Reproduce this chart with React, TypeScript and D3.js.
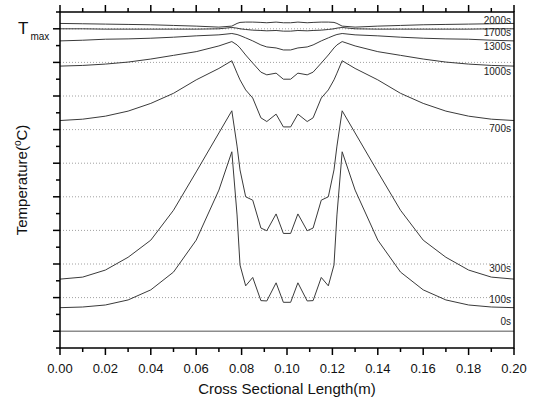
import React, { useEffect, useRef } from 'react';
import * as d3 from 'd3';

// cross section positions (m), shared by all time curves
const xs = [0, 0.01, 0.02, 0.03, 0.04, 0.05, 0.06, 0.07, 0.0757, 0.078, 0.0793, 0.0818, 0.0849, 0.0885, 0.0911, 0.0952, 0.0984,
  0.1016, 0.1048, 0.1089, 0.1115, 0.1151, 0.1182, 0.1207, 0.122, 0.1243, 0.13, 0.14, 0.15, 0.16, 0.17, 0.18, 0.19, 0.2];

// temperature in tick units (0 = initial, 9 = Tmax)
const t0s = [0, 0, 0, 0, 0, 0, 0, 0, 0, 0, 0, 0, 0, 0, 0, 0, 0,
  0, 0, 0, 0, 0, 0, 0, 0, 0, 0, 0, 0, 0, 0, 0, 0, 0];
const t100s = [0.70, 0.72, 0.78, 0.93, 1.23, 1.76, 2.71, 4.20, 5.34, 3.46, 1.97, 1.35, 1.60, 0.91, 0.90, 1.44, 0.86,
  0.86, 1.44, 0.90, 0.91, 1.60, 1.35, 1.97, 3.46, 5.34, 4.20, 2.71, 1.76, 1.23, 0.93, 0.78, 0.72, 0.70];
const t300s = [1.55, 1.61, 1.82, 2.20, 2.71, 3.60, 4.74, 5.90, 6.56, 5.51, 4.80, 4.00, 3.90, 3.07, 2.99, 3.49, 2.91,
  2.91, 3.49, 2.99, 3.07, 3.90, 4.00, 4.80, 5.51, 6.56, 5.90, 4.74, 3.60, 2.71, 2.20, 1.82, 1.61, 1.55];
const t700s = [6.27, 6.31, 6.40, 6.55, 6.78, 7.08, 7.48, 7.82, 8.05, 7.68, 7.48, 7.18, 6.94, 6.35, 6.24, 6.46, 6.08,
  6.08, 6.46, 6.24, 6.35, 6.94, 7.18, 7.48, 7.68, 8.05, 7.82, 7.48, 7.08, 6.78, 6.55, 6.40, 6.31, 6.27];
const t1000s = [7.89, 7.91, 7.95, 8.01, 8.10, 8.21, 8.32, 8.49, 8.62, 8.52, 8.43, 8.22, 7.98, 7.71, 7.63, 7.68, 7.50,
  7.50, 7.68, 7.63, 7.71, 7.98, 8.22, 8.43, 8.52, 8.62, 8.49, 8.32, 8.21, 8.10, 8.01, 7.95, 7.91, 7.89];
const t1300s = [8.64, 8.66, 8.69, 8.70, 8.72, 8.75, 8.79, 8.82, 8.86, 8.83, 8.80, 8.73, 8.64, 8.52, 8.46, 8.43, 8.37,
  8.37, 8.43, 8.46, 8.52, 8.64, 8.73, 8.80, 8.83, 8.86, 8.82, 8.79, 8.75, 8.72, 8.70, 8.69, 8.66, 8.64];
const t1700s = [9.00, 9.00, 8.99, 8.99, 8.99, 8.99, 8.99, 9.00, 9.04, 9.02, 9.00, 8.98, 8.96, 8.95, 8.94, 8.95, 8.93,
  8.93, 8.95, 8.94, 8.95, 8.96, 8.98, 9.00, 9.02, 9.04, 9.00, 8.99, 8.99, 8.99, 8.99, 8.99, 9.00, 9.00];
const t2000s = [9.16, 9.15, 9.14, 9.13, 9.12, 9.10, 9.08, 9.05, 9.08, 9.16, 9.19, 9.20, 9.20, 9.19, 9.18, 9.20, 9.18,
  9.18, 9.20, 9.18, 9.19, 9.20, 9.20, 9.19, 9.16, 9.08, 9.05, 9.08, 9.10, 9.12, 9.13, 9.14, 9.15, 9.16];

const seriesNames = ['0s', '100s', '300s', '700s', '1000s', '1300s', '1700s', '2000s'];
const seriesValues = [t0s, t100s, t300s, t700s, t1000s, t1300s, t1700s, t2000s];
// where each time label sits (tick units)
const labelLevels = [0.30, 0.95, 1.87, 6.04, 7.74, 8.47, 8.88, 9.24];

const xTicks = d3.range(0, 11).map(i => i * 0.02);
const xMinorTicks = d3.range(0, 21).map(i => i * 0.01);
const yTicks = d3.range(0, 10);
const yMinorTicks = d3.range(-0.5, 10, 0.5);
const gridLevels = d3.range(1, 10);

const W = 536, H = 402;
const FONT = 'Liberation Sans, Arial, sans-serif';

export default function App() {
  const ref = useRef<SVGSVGElement>(null);

  useEffect(() => {
    const svg = d3.select(ref.current);
    svg.selectAll('*').remove();

    const x = d3.scaleLinear().domain([0, 0.2]).range([60, 514]);
    const y = d3.scaleLinear().domain([-0.5, 9.5]).range([348, 12]);
    const [x0, x1] = x.range();
    const [y0, y1] = y.range();

    // dotted grid
    svg.append('g')
      .selectAll('line')
      .data(gridLevels)
      .join('line')
        .attr('x1', x0).attr('x2', x1)
        .attr('y1', d => y(d)).attr('y2', d => y(d))
        .attr('stroke', '#a0a0a0')
        .attr('stroke-width', 1)
        .attr('stroke-dasharray', '1,2');

    // curves
    const line = d3.line<number>()
      .x((d, i) => x(xs[i]))
      .y(d => y(d));

    svg.append('g')
      .selectAll('path')
      .data(seriesValues)
      .join('path')
        .attr('fill', 'none')
        .attr('stroke', (d, i) => i === 0 ? '#8c8c8c' : '#3a3a3a')
        .attr('stroke-width', (d, i) => i === 0 ? 1.6 : 1)
        .attr('d', d => line(d));

    // time labels
    svg.append('g')
      .selectAll('text')
      .data(seriesNames)
      .join('text')
        .attr('x', x1 - 3)
        .attr('y', (d, i) => y(labelLevels[i]))
        .attr('dy', '0.35em')
        .attr('text-anchor', 'end')
        .attr('font-family', FONT)
        .attr('font-size', 10)
        .attr('fill', '#222')
        .text(d => d);

    // frame
    svg.append('rect')
      .attr('x', x0).attr('y', y1)
      .attr('width', x1 - x0).attr('height', y0 - y1)
      .attr('fill', 'none')
      .attr('stroke', '#000')
      .attr('stroke-width', 1.5);

    const ticks = svg.append('g').attr('stroke', '#000').attr('stroke-width', 1.5);
    // bottom + top ticks
    ticks.selectAll('line.xb')
      .data(xMinorTicks)
      .join('line')
        .attr('class', 'xb')
        .attr('x1', d => x(d)).attr('x2', d => x(d))
        .attr('y1', y0).attr('y2', (d, i) => y0 + (i % 2 === 0 ? 7 : 4));
    ticks.selectAll('line.xt')
      .data(xMinorTicks)
      .join('line')
        .attr('class', 'xt')
        .attr('x1', d => x(d)).attr('x2', d => x(d))
        .attr('y1', y1).attr('y2', (d, i) => y1 - (i % 2 === 0 ? 7 : 4));
    // left ticks
    ticks.selectAll('line.yl')
      .data(yMinorTicks)
      .join('line')
        .attr('class', 'yl')
        .attr('y1', d => y(d)).attr('y2', d => y(d))
        .attr('x1', x0).attr('x2', d => x0 - (Number.isInteger(d) ? 7 : 4));

    // x tick labels
    svg.append('g')
      .selectAll('text')
      .data(xTicks)
      .join('text')
        .attr('x', d => x(d))
        .attr('y', y0 + 25)
        .attr('text-anchor', 'middle')
        .attr('font-family', FONT)
        .attr('font-size', 13)
        .attr('fill', '#111')
        .text(d => d3.format('.2f')(d));

    svg.append('text')
      .attr('x', (x0 + x1) / 2)
      .attr('y', 394)
      .attr('text-anchor', 'middle')
      .attr('font-family', FONT)
      .attr('font-size', 15)
      .attr('fill', '#111')
      .text('Cross Sectional Length(m)');

    // y title with superscript
    const yt = svg.append('text')
      .attr('transform', `translate(27,${(y0 + y1) / 2}) rotate(-90)`)
      .attr('text-anchor', 'middle')
      .attr('font-family', FONT)
      .attr('font-size', 15)
      .attr('fill', '#111');
    yt.append('tspan').text('Temperature(');
    yt.append('tspan').attr('font-size', 10).attr('dy', -6).text('o');
    yt.append('tspan').attr('dy', 6).text('C)');

    // Tmax marker at the top major tick
    const tm = svg.append('text')
      .attr('x', 18)
      .attr('y', y(yTicks[yTicks.length - 1]) + 5)
      .attr('font-family', FONT)
      .attr('font-size', 17)
      .attr('fill', '#111');
    tm.append('tspan').text('T');
    tm.append('tspan').attr('font-size', 10).attr('dx', 2).attr('dy', 6).text('max');
  }, []);

  return (
    <svg ref={ref} width={W} height={H} style={{ position: 'absolute', left: 0, top: 0, background: '#fff' }} />
  );
}
